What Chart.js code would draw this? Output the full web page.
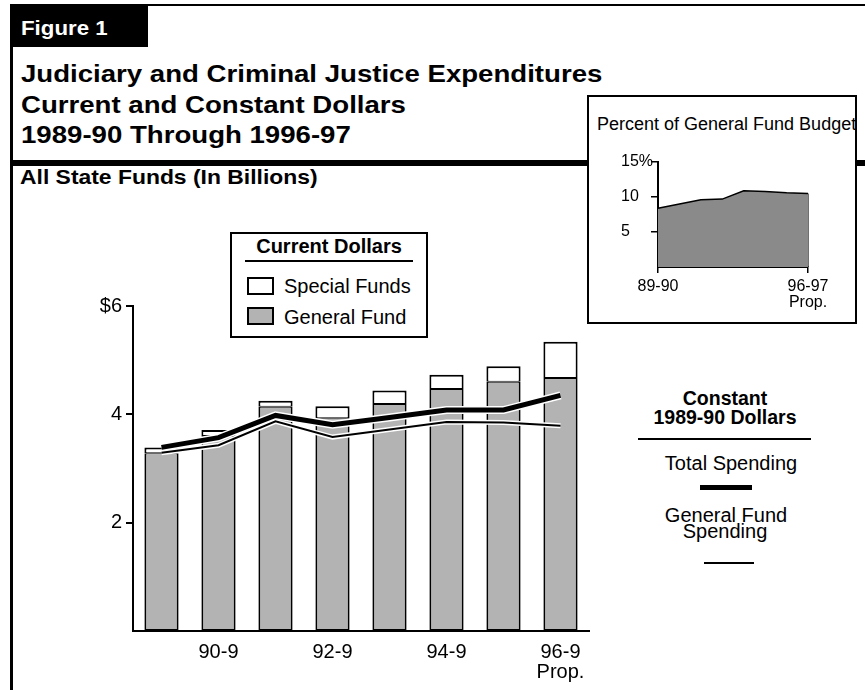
<!DOCTYPE html>
<html>
<head>
<meta charset="utf-8">
<script src="https://cdn.jsdelivr.net/npm/chart.js@4.4.1/dist/chart.umd.min.js"></script>
<style>
  body { margin: 0; background: #fff; }
  #page { position: relative; width: 865px; height: 690px; overflow: hidden; background: #fff;
          font-family: "Liberation Sans", Arial, Helvetica, sans-serif; color: #000; }
  .abs { position: absolute; white-space: nowrap; line-height: 1; }
  .bold { font-weight: bold; }
  .wide { transform-origin: left center; }
  .box { position: absolute; border: 2px solid #000; background: #fff; box-sizing: border-box; }
  .rule { position: absolute; background: #000; }
  canvas { position: absolute; }
</style>
</head>
<body>
<div id="page">
  <!-- frame and heading -->
  <div class="rule" style="left:10px;top:4px;width:855px;height:2px"></div>
  <div class="rule" style="left:10px;top:4px;width:2.5px;height:690px"></div>
  <div class="rule" style="left:10px;top:4px;width:138px;height:43px"></div>
  <div class="abs bold wide" style="left:21px;top:17px;font-size:21px;color:#fff;transform:scaleX(1.06)">Figure 1</div>

  <div class="abs bold wide" style="left:21px;top:63px;font-size:23px;transform:scaleX(1.2)">Judiciary and Criminal Justice Expenditures</div>
  <div class="abs bold wide" style="left:21px;top:94px;font-size:23px;transform:scaleX(1.2)">Current and Constant Dollars</div>
  <div class="abs bold wide" style="left:21px;top:124px;font-size:23px;transform:scaleX(1.2)">1989-90 Through 1996-97</div>
  <div class="abs bold wide" style="left:20px;top:166px;font-size:21px;transform:scaleX(1.09)">All State Funds (In Billions)</div>
  <div class="rule" style="left:10px;top:160px;width:855px;height:6px;border-radius:3px 0 0 3px"></div>

  <!-- inset: share of the General Fund budget -->
  <div class="box" style="left:587px;top:95px;width:270px;height:229px"></div>
  <div class="abs" style="left:597px;top:115px;font-size:18px">Percent of General Fund Budget</div>
  <canvas id="pctChart" width="260" height="190" style="left:590px;top:130px"></canvas>

  <!-- current dollars legend -->
  <div class="box" style="left:230px;top:232px;width:198px;height:106px"></div>
  <div class="abs bold" style="left:230px;top:236px;width:198px;text-align:center;font-size:20px">Current Dollars</div>
  <div class="rule" style="left:245px;top:260px;width:168px;height:1.5px"></div>
  <div id="swSpecial" class="box" style="left:247px;top:277px;width:27px;height:18px"></div>
  <div class="abs" style="left:284px;top:276px;font-size:20px">Special Funds</div>
  <div id="swGeneral" class="box" style="left:247px;top:307px;width:27px;height:18px"></div>
  <div class="abs" style="left:284px;top:307px;font-size:20px">General Fund</div>

  <!-- constant dollars legend -->
  <div class="abs bold" style="left:625px;top:389px;width:200px;text-align:center;font-size:19.5px">Constant</div>
  <div class="abs bold" style="left:625px;top:408px;width:200px;text-align:center;font-size:19.5px">1989-90 Dollars</div>
  <div class="rule" style="left:638px;top:438px;width:173px;height:2px"></div>
  <div class="abs" style="left:631px;top:453px;width:200px;text-align:center;font-size:20px">Total Spending</div>
  <div id="lnTotal" class="rule" style="left:700px;top:485px;width:52px"></div>
  <div class="abs" style="left:626px;top:505px;width:200px;text-align:center;font-size:20px">General Fund</div>
  <div class="abs" style="left:625px;top:521px;width:200px;text-align:center;font-size:20px">Spending</div>
  <div id="lnGeneral" class="rule" style="left:704px;top:562px;width:50px"></div>

  <canvas id="mainChart" width="530" height="400" style="left:70px;top:290px"></canvas>
</div>

<script>
// fiscal years and what the axes print
const years = ["89-90", "90-91", "91-92", "92-93", "93-94", "94-95", "95-96", "96-97"];
const xTickLabels = ["", "90-9", "", "92-9", "", "94-9", "", ["96-9", "Prop."]];
const yTicks = [2, 4, 6];
const yTickLabels = ["2", "4", "$6"];

// current dollars, billions
const generalFund = [3.28, 3.60, 4.14, 3.93, 4.19, 4.47, 4.60, 4.67];
const specialFunds = [0.11, 0.11, 0.11, 0.22, 0.25, 0.26, 0.29, 0.67];

// constant 1989-90 dollars, billions
const constantTotal = [3.39, 3.57, 3.98, 3.81, 3.94, 4.08, 4.08, 4.35];
const constantGeneral = [3.29, 3.43, 3.87, 3.58, 3.72, 3.86, 3.85, 3.79];

// percent of general fund budget
const pctBudget = [8.4, 9.0, 9.6, 9.7, 10.9, 10.8, 10.6, 10.5];
const pctTicks = [5, 10, 15];
const pctTickLabels = ["5", "10", "15%"];
const pctXLabels = ["89-90", "", "", "", "", "", "", ["96-97", "Prop."]];

const FONT = '"Liberation Sans", Arial, Helvetica, sans-serif';
const gfGray = "#b3b3b3";
const thickW = 5;
const thinW = 2;

Chart.defaults.font.family = FONT;
Chart.defaults.color = "#000";

//legend swatches follow the dataset styles
document.getElementById("swGeneral").style.background = gfGray;
document.getElementById("lnTotal").style.height = thickW + "px";
document.getElementById("lnGeneral").style.height = thinW + "px";

function lineSet(data, color, width, order, stack) {
  return {
    type: "line",
    data: data,
    borderColor: color,
    borderWidth: width,
    pointRadius: 0,
    tension: 0,
    fill: false,
    order: order,
    stack: stack,
  };
}

new Chart(document.getElementById("mainChart"), {
  type: "bar",
  data: {
    labels: years,
    datasets: [
      {
        label: "General Fund",
        data: generalFund,
        backgroundColor: gfGray,
        borderColor: "#000",
        borderWidth: { top: 1, bottom: 2, left: 2, right: 2 },
        borderSkipped: false,
        stack: "current",
        order: 10,
      },
      {
        label: "Special Funds",
        data: specialFunds,
        backgroundColor: "#fff",
        borderColor: "#000",
        borderWidth: { top: 2, bottom: 1, left: 2, right: 2 },
        borderSkipped: false,
        stack: "current",
        order: 10,
      },
      // white edges under the constant-dollar lines
      lineSet(constantTotal, "#fff", thickW + 3, 6, "haloT"),
      lineSet(constantGeneral, "#fff", thinW + 3, 5, "haloG"),
      lineSet(constantGeneral, "#000", thinW, 2, "cGF"),
      lineSet(constantTotal, "#000", thickW, 1, "cTotal"),
    ],
  },
  options: {
    responsive: false,
    animation: false,
    devicePixelRatio: 1,
    layout: { padding: { left: 3, top: 13, right: 11, bottom: 0 } },
    datasets: { bar: { barPercentage: 0.6, categoryPercentage: 1 } },
    plugins: { legend: { display: false }, tooltip: { enabled: false } },
    scales: {
      x: {
        stacked: true,
        grid: { display: false, drawTicks: false },
        border: { display: true, color: "#000", width: 2 },
        ticks: {
          autoSkip: false,
          maxRotation: 0,
          padding: 11,
          font: { size: 20, lineHeight: 1 },
          callback: (v) => xTickLabels[v],
        },
        afterFit: (axis) => { axis.height = 59; },
      },
      y: {
        stacked: true,
        min: 0,
        max: 6,
        afterBuildTicks: (axis) => { axis.ticks = yTicks.map((v) => ({ value: v })); },
        grid: { drawOnChartArea: false, drawTicks: true, tickLength: 7, color: "#000", lineWidth: 2 },
        border: { display: true, color: "#000", width: 2 },
        ticks: {
          padding: 4,
          font: { size: 20 },
          callback: (v) => yTickLabels[yTicks.indexOf(v)],
        },
        afterFit: (axis) => { axis.width = 60; },
      },
    },
  },
});

//Inset area chart
let last = pctBudget.length - 1;
new Chart(document.getElementById("pctChart"), {
  type: "line",
  data: {
    labels: years,
    datasets: [
      {
        data: pctBudget,
        borderColor: "#000",
        borderWidth: 1.5,
        backgroundColor: "#8a8a8a",
        fill: "origin",
        pointRadius: 0,
        tension: 0,
      },
      {
        // closing edge at the last year
        data: [{ x: years[last], y: 0 }, { x: years[last], y: pctBudget[last] }],
        borderColor: "#000",
        borderWidth: 1.5,
        pointRadius: 0,
        fill: false,
      },
    ],
  },
  options: {
    responsive: false,
    animation: false,
    devicePixelRatio: 1,
    layout: { padding: { left: 31, top: 32, right: 42, bottom: 0 } },
    plugins: { legend: { display: false }, tooltip: { enabled: false } },
    scales: {
      x: {
        afterBuildTicks: (axis) => { axis.ticks = axis.ticks.filter((t) => pctXLabels[t.value] !== ""); },
        grid: { drawOnChartArea: false, drawTicks: true, tickLength: 6, color: "#000", lineWidth: 1.5 },
        border: { display: true, color: "#000", width: 2 },
        ticks: {
          autoSkip: false,
          maxRotation: 0,
          padding: 6,
          font: { size: 16, lineHeight: 1 },
          callback: (v) => pctXLabels[v],
        },
        afterFit: (axis) => { axis.height = 53; },
      },
      y: {
        min: 0,
        max: 15,
        afterBuildTicks: (axis) => { axis.ticks = pctTicks.map((v) => ({ value: v })); },
        grid: { drawOnChartArea: false, drawTicks: true, tickLength: 7, color: "#000", lineWidth: 1.5 },
        border: { display: true, color: "#000", width: 2 },
        ticks: {
          crossAlign: "far",
          font: { size: 16 },
          callback: (v) => pctTickLabels[pctTicks.indexOf(v)],
        },
        afterFit: (axis) => { axis.width = 37; },
      },
    },
  },
});
</script>
</body>
</html>
